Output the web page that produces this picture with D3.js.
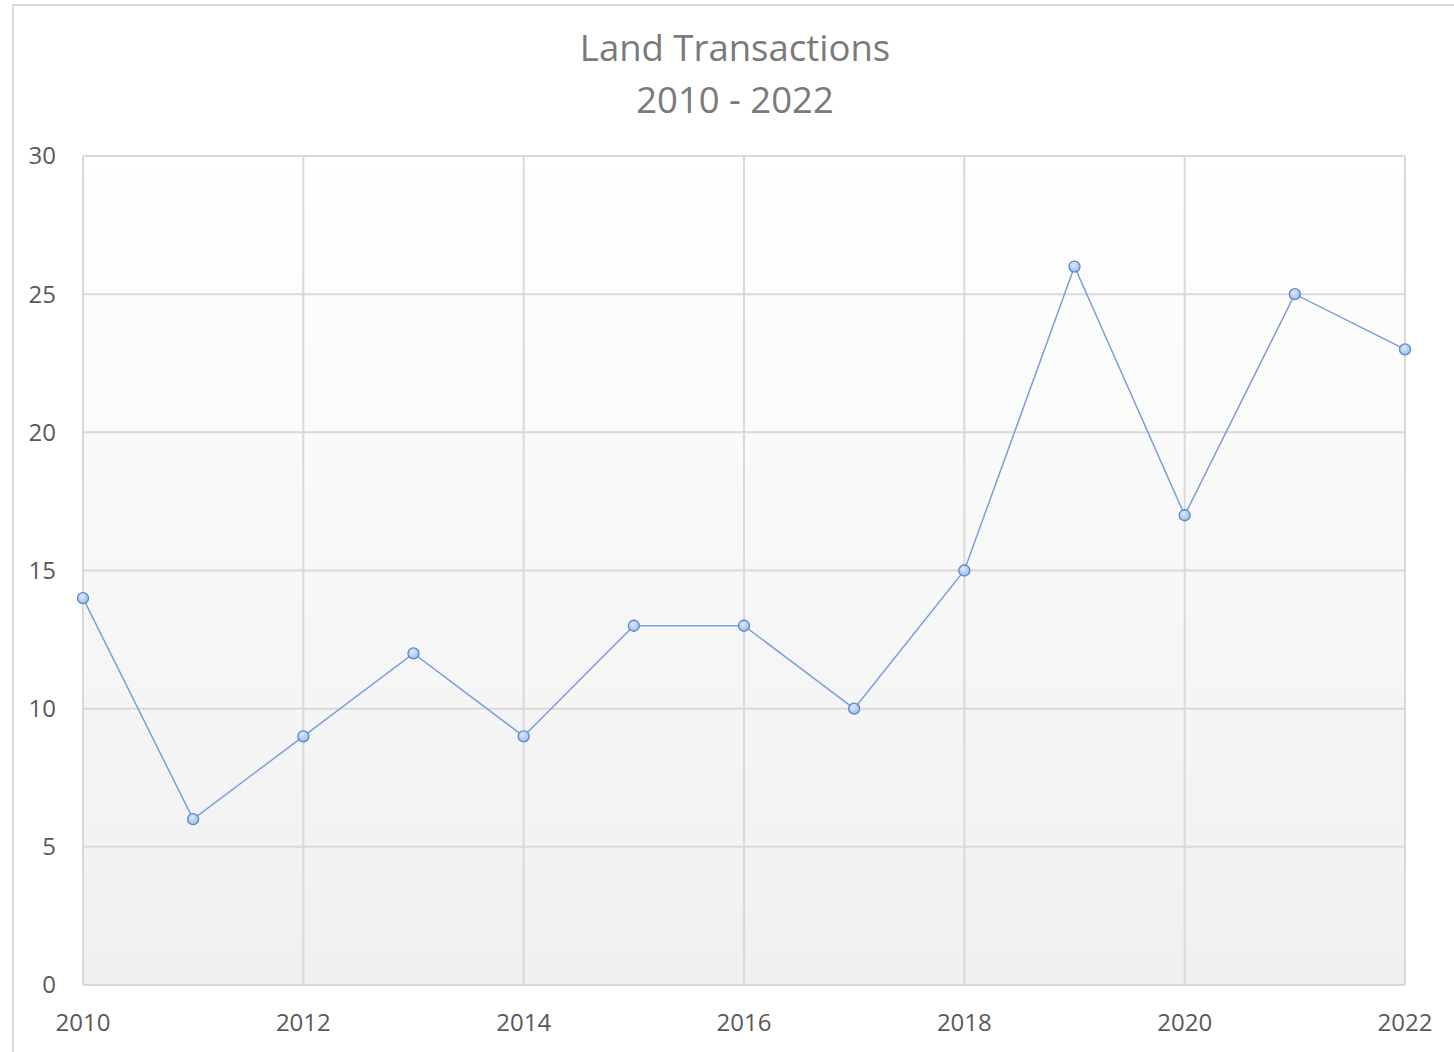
<!DOCTYPE html>
<html>
<head>
<meta charset="utf-8">
<script src="https://cdn.jsdelivr.net/npm/d3@7"></script>
<style>
  body { margin: 0; background: #fff; }
  svg text { font-family: "Open Sans", "Noto Sans", sans-serif; }
</style>
</head>
<body>
<div id="chart"></div>
<script>
var years = [2010, 2011, 2012, 2013, 2014, 2015, 2016, 2017, 2018, 2019, 2020, 2021, 2022];
var transactions = [14, 6, 9, 12, 9, 13, 13, 10, 15, 26, 17, 25, 23];
var yTicks = [0, 5, 10, 15, 20, 25, 30];
var xTicks = [2010, 2012, 2014, 2016, 2018, 2020, 2022];
var titleLines = ["Land Transactions", "2010 - 2022"];

var W = 1454, H = 1052;
var margin = {top: 156, right: 49, bottom: 67, left: 83},
    width = W - margin.left - margin.right,
    height = H - margin.top - margin.bottom;

var svg = d3.select("#chart").append("svg")
    .attr("width", W)
    .attr("height", H);

// chart border
svg.append("rect")
    .attr("x", 13).attr("y", 5)
    .attr("width", W).attr("height", H)
    .attr("fill", "none")
    .attr("stroke", "#d9d9d9")
    .attr("stroke-width", 2);

// plot background gradient
var defs = svg.append("defs");
var grad = defs.append("linearGradient")
    .attr("id", "bg").attr("x1", 0).attr("y1", 0).attr("x2", 0).attr("y2", 1);
grad.append("stop").attr("offset", "0%").attr("stop-color", "#ffffff");
grad.append("stop").attr("offset", "100%").attr("stop-color", "#f0f0f0");

var dotGrad = defs.append("radialGradient")
    .attr("id", "dot").attr("cx", "40%").attr("cy", "35%").attr("r", "65%");
dotGrad.append("stop").attr("offset", "0%").attr("stop-color", "#dce8fb");
dotGrad.append("stop").attr("offset", "100%").attr("stop-color", "#9dbdf0");

var g = svg.append("g")
    .attr("transform", "translate(" + margin.left + "," + margin.top + ")");

var x = d3.scaleLinear().domain([2010, 2022]).range([0, width]);
var y = d3.scaleLinear().domain([0, 30]).range([height, 0]);

g.append("rect")
    .attr("width", width).attr("height", height)
    .attr("fill", "url(#bg)");

// grid
g.selectAll(".hgrid").data(yTicks).enter().append("line")
    .attr("x1", 0).attr("x2", width)
    .attr("y1", function(d) { return y(d); })
    .attr("y2", function(d) { return y(d); })
    .attr("stroke", "#d9d9d9").attr("stroke-width", 2);

g.selectAll(".vgrid").data(xTicks).enter().append("line")
    .attr("x1", function(d) { return x(d); })
    .attr("x2", function(d) { return x(d); })
    .attr("y1", 0).attr("y2", height)
    .attr("stroke", "#d9d9d9").attr("stroke-width", 2);

// axis labels
g.selectAll(".ylab").data(yTicks).enter().append("text")
    .attr("x", -27)
    .attr("y", function(d) { return y(d); })
    .attr("dy", "0.35em")
    .attr("text-anchor", "end")
    .attr("font-size", 24)
    .attr("fill", "#595959")
    .text(function(d) { return d; });

g.selectAll(".xlab").data(xTicks).enter().append("text")
    .attr("x", function(d) { return x(d); })
    .attr("y", height + 38)
    .attr("dy", "0.35em")
    .attr("text-anchor", "middle")
    .attr("font-size", 24)
    .attr("fill", "#595959")
    .text(function(d) { return d; });

// title
svg.selectAll(".title").data(titleLines).enter().append("text")
    .attr("x", 735)
    .attr("y", function(d, i) { return 48 + i * 52; })
    .attr("dy", "0.35em")
    .attr("text-anchor", "middle")
    .attr("font-size", 36.5)
    .attr("fill", "#7a7a7a")
    .text(function(d) { return d; });

// line
var pts = years.map(function(yr, i) { return [yr, transactions[i]]; });
var line = d3.line()
    .x(function(d) { return x(d[0]); })
    .y(function(d) { return y(d[1]); });

g.append("path")
    .datum(pts)
    .attr("d", line)
    .attr("fill", "none")
    .attr("stroke", "#7aa0d8")
    .attr("stroke-width", 1.5);

g.selectAll(".dot").data(pts).enter().append("circle")
    .attr("cx", function(d) { return x(d[0]); })
    .attr("cy", function(d) { return y(d[1]); })
    .attr("r", 5.5)
    .attr("fill", "url(#dot)")
    .attr("stroke", "#5b87c8")
    .attr("stroke-width", 1.3);
</script>
</body>
</html>
